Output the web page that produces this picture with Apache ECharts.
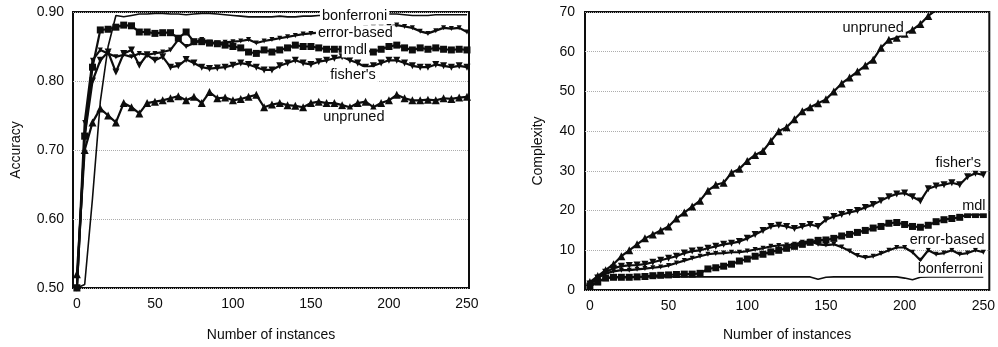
<!DOCTYPE html>
<html><head><meta charset="utf-8">
<script src="https://cdn.jsdelivr.net/npm/echarts@6/dist/echarts.min.js"></script>
<style>html,body{margin:0;padding:0;background:#fff}#c{width:998px;height:347px}</style>
</head><body><div id="c"></div>
<script>
const instances = [0,5,10,15,20,25,30,35,40,45,50,55,60,65,70,75,80,85,90,95,100,105,110,115,120,125,130,135,140,145,150,155,160,165,170,175,180,185,190,195,200,205,210,215,220,225,230,235,240,245,250];
const xTicks = [0,50,100,150,200,250];

// Accuracy (left panel)
const accUnpruned = [0.52,0.70,0.74,0.76,0.75,0.74,0.768,0.762,0.753,0.768,0.770,0.772,0.775,0.778,0.772,0.777,0.768,0.784,0.775,0.776,0.772,0.774,0.777,0.780,0.762,0.766,0.768,0.765,0.764,0.762,0.768,0.770,0.768,0.768,0.765,0.762,0.768,0.770,0.762,0.768,0.772,0.780,0.775,0.772,0.772,0.773,0.772,0.775,0.774,0.776,0.777];
const accFishers = [0.50,0.72,0.80,0.83,0.842,0.813,0.84,0.845,0.823,0.838,0.830,0.835,0.820,0.822,0.831,0.826,0.820,0.818,0.819,0.820,0.823,0.826,0.824,0.820,0.816,0.816,0.822,0.826,0.830,0.826,0.824,0.828,0.830,0.833,0.835,0.830,0.826,0.820,0.822,0.826,0.830,0.830,0.826,0.822,0.820,0.820,0.824,0.822,0.820,0.822,0.820];
const accMdl = [0.50,0.72,0.82,0.874,0.875,0.878,0.881,0.880,0.871,0.871,0.869,0.870,0.870,0.862,0.871,0.857,0.857,0.855,0.854,0.852,0.850,0.848,0.842,0.840,0.845,0.842,0.845,0.848,0.852,0.850,0.850,0.848,0.846,0.846,0.846,0.846,0.846,0.844,0.842,0.846,0.850,0.852,0.848,0.845,0.848,0.846,0.848,0.846,0.845,0.846,0.845];
const accErrorBased = [0.50,0.74,0.83,0.845,0.84,0.835,0.838,0.835,0.84,0.838,0.84,0.842,0.845,0.86,0.85,0.855,0.86,0.856,0.855,0.856,0.857,0.858,0.86,0.855,0.858,0.86,0.862,0.864,0.866,0.868,0.869,0.87,0.872,0.873,0.874,0.875,0.876,0.877,0.878,0.878,0.879,0.881,0.879,0.877,0.872,0.869,0.873,0.877,0.876,0.877,0.871];
const accBonferroni = [0.50,0.505,0.63,0.77,0.85,0.895,0.893,0.895,0.897,0.897,0.898,0.898,0.897,0.897,0.896,0.897,0.898,0.898,0.897,0.896,0.895,0.894,0.893,0.893,0.893,0.893,0.894,0.893,0.893,0.894,0.894,0.895,0.895,0.894,0.894,0.894,0.895,0.895,0.896,0.896,0.897,0.897,0.896,0.895,0.895,0.895,0.896,0.896,0.896,0.896,0.896];
const accTicks = [0.5,0.6,0.7,0.8,0.9];

// Complexity (right panel)
const cxUnpruned = [2,3.5,5,6.5,8.5,10,11.5,13,14,15,16,18,19.5,21,22.5,25,26.5,27,29.5,30.5,32.5,34,35,37.5,40,41,43,45,46,47,48,50,52,53.5,55,56.5,58,61,63,63.5,64.5,65.5,67,69,70.5,null,null,null,null,null,null];
const cxFishers = [1.5,3,4.5,5.5,6,6.2,6.3,6.5,7,7.5,8,8.5,9.3,9.8,10,10.5,11,11.5,11.8,12.2,13,14,15,16,16.3,16,15.5,16,16.5,16,17.7,18.5,19,19.5,20,20.8,21.5,22.5,23.5,24.2,24.4,23.5,22.4,25.5,26.2,26.5,27,26.5,28.5,29.4,29];
const cxMdl = [1,2,3,3.2,3.2,3.2,3.3,3.4,3.6,3.7,3.8,3.9,4,4,4.2,5.3,5.6,6,6.5,7.3,7.8,8.5,9,9.6,10,10.5,11,11.5,12,12.5,12.6,13,13.6,14,14.5,15,15.6,16,16.8,17,16.5,16,15.8,16.3,17.2,17.7,18,18.3,19,19,19];
const cxErrorBased = [1.5,3,4.2,4.7,5,5,5.2,5.4,5.6,5.8,6.2,6.8,7.4,8,8.5,9,9.2,9.3,9.5,9.5,9.8,10.2,10.5,11,11.2,11.3,11.5,12,12.3,11.5,11.3,11.5,10.8,9.8,8.7,8.2,8.5,9.2,10,10.7,10.7,9.5,7.5,10,9,9.3,10,9,9.3,10,9.5];
const cxBonferroni = [1,2,3,3.3,3.3,3.3,3.3,3.3,3.3,3.3,3.3,3.3,3.3,3.3,3.3,3.3,3.3,3.3,3.3,3.3,3.3,3.3,3.3,3.3,3.3,3.3,3.3,3.3,3.3,2.7,3.2,3.3,3.3,3.3,3.3,3.3,3.3,3.3,3.3,3.3,3.0,2.6,3.2,3.3,3.3,3.3,3.3,3.3,3.3,3.3,3.3];
const cxTicks = [0,10,20,30,40,50,60,70];

const seriesNames = ['unpruned', "fisher's", 'mdl', 'error-based', 'bonferroni'];

// in-plot label anchors (data coordinates)
const accLabelAt = {'unpruned':[177.5,0.748], "fisher's":[177,0.809], 'mdl':[178.5,0.845], 'error-based':[178.5,0.870], 'bonferroni':[178,0.894]};
const cxLabelAt = {'unpruned':[180,66], "fisher's":[234,31.9], 'mdl':[244,21.2], 'error-based':[227,12.5], 'bonferroni':[229,5.2]};

const FONT = '"Liberation Sans", Arial, Helvetica, sans-serif';
const INK = '#0d0d0d';
const symbolStyle = {
  'unpruned': {symbol:'triangle', symbolSize:8, symbolRotate:0},
  "fisher's": {symbol:'triangle', symbolSize:7, symbolRotate:180},
  'mdl': {symbol:'rect', symbolSize:7, symbolRotate:0},
  'error-based': {symbol:'triangle', symbolSize:5, symbolRotate:180},
  'bonferroni': {symbol:'none', symbolSize:0, symbolRotate:0}
};

function mk(name, idx, vals, labelAt) {
  const st = symbolStyle[name];
  return {
    type:'line', name, xAxisIndex: idx, yAxisIndex: idx,
    data: instances.map((x,i)=>[x, vals[i]]),
    symbol: st.symbol, symbolSize: st.symbolSize, symbolRotate: st.symbolRotate,
    showSymbol: st.symbol !== 'none',
    lineStyle:{color:INK, width: name==='bonferroni'?1.6:2.2},
    itemStyle:{color:INK},
    animation:false, silent:true, clip:true,
    markPoint:{
      symbol:'circle', symbolSize:1, itemStyle:{color:'rgba(0,0,0,0)'},
      z: 10, silent:true, animation:false,
      label:{show:true, position:'inside', formatter: name, color:INK, fontFamily:FONT, fontSize:14.5,
        backgroundColor:'#fff', padding:[0,2,0,2], lineHeight:15},
      data:[{coord: labelAt[name]}]
    }
  };
}

const axisText = {color:INK, fontFamily:FONT, fontSize:14};
const chart = echarts.init(document.getElementById('c'), null, {renderer:'canvas'});
chart.setOption({
  backgroundColor:'#fff',
  animation:false,
  grid:[
    {left:73, top:12, width:396, height:276, show:true, borderColor:INK, borderWidth:2, backgroundColor:'rgba(0,0,0,0)'},
    {left:585, top:12, width:409, height:281, show:true, borderColor:INK, borderWidth:2, backgroundColor:'rgba(0,0,0,0)'}
  ],
  xAxis:[
    {type:'value', gridIndex:0, min:-2.5, max:251.3,
     axisLine:{show:false}, axisTick:{show:false}, splitLine:{show:false},
     axisLabel:Object.assign({margin:9, customValues:xTicks}, axisText),
     name:'Number of instances', nameLocation:'middle', nameGap:40, nameTextStyle:axisText},
    {type:'value', gridIndex:1, min:-3.1, max:253.8,
     axisLine:{show:false}, axisTick:{show:false}, splitLine:{show:false},
     axisLabel:Object.assign({margin:9, customValues:xTicks}, axisText),
     name:'Number of instances', nameLocation:'middle', nameGap:38, nameTextStyle:axisText}
  ],
  yAxis:[
    {type:'value', gridIndex:0, min:accTicks[0], max:accTicks[accTicks.length-1], interval:0.1,
     axisLine:{show:false}, axisTick:{show:false},
     splitLine:{show:true, lineStyle:{type:'dotted', color:'#adadad', width:1}},
     axisLabel:Object.assign({margin:9, formatter:v=>v.toFixed(2)}, axisText),
     name:'Accuracy', nameLocation:'middle', nameGap:50, nameTextStyle:axisText},
    {type:'value', gridIndex:1, min:cxTicks[0], max:cxTicks[cxTicks.length-1], interval:10,
     axisLine:{show:false}, axisTick:{show:false},
     splitLine:{show:true, lineStyle:{type:'dotted', color:'#adadad', width:1}},
     axisLabel:Object.assign({margin:10}, axisText),
     name:'Complexity', nameLocation:'middle', nameGap:40, nameTextStyle:axisText}
  ],
  series:[
    mk('bonferroni',0,accBonferroni,accLabelAt),
    mk('error-based',0,accErrorBased,accLabelAt),
    mk('mdl',0,accMdl,accLabelAt),
    mk("fisher's",0,accFishers,accLabelAt),
    mk('unpruned',0,accUnpruned,accLabelAt),
    mk('bonferroni',1,cxBonferroni,cxLabelAt),
    mk('error-based',1,cxErrorBased,cxLabelAt),
    mk('mdl',1,cxMdl,cxLabelAt),
    mk("fisher's",1,cxFishers,cxLabelAt),
    mk('unpruned',1,cxUnpruned,cxLabelAt)
  ]
});
</script></body></html>
